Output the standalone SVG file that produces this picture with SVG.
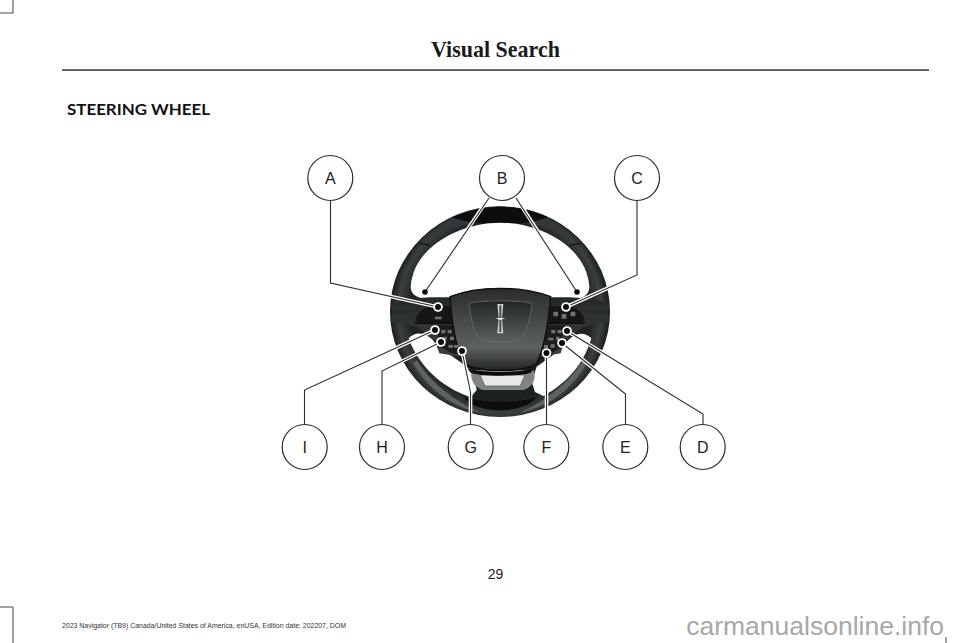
<svg xmlns="http://www.w3.org/2000/svg" width="960" height="643" viewBox="0 0 960 643">
<style>
.hd{font-family:"Liberation Serif",serif;font-weight:700;font-size:23px;fill:#1a1a1a}
.sec{font-family:"Lato","Liberation Sans",sans-serif;font-weight:700;font-size:16px;fill:#111}
.num{font-family:"Liberation Sans",sans-serif;font-size:14px;fill:#222}
.ft{font-family:"Liberation Sans",sans-serif;font-size:8px;fill:#333}
.wm{font-family:"Liberation Sans",sans-serif;font-size:26.500px;fill:#a8a8a8;text-anchor:end}
.c{fill:#fff;stroke:#2b2b2b;stroke-width:1.2}
.t{font-family:"Liberation Sans",sans-serif;font-size:16px;fill:#222;text-anchor:middle}
.h{fill:none;stroke:#fff;stroke-width:3.6}
.l{fill:none;stroke:#2b2b2b;stroke-width:1.1}
.dh{fill:#fff}
.d{fill:#0a0a0a}
.btn{fill:#6f7373}
</style>
<defs>
<radialGradient id="rg" gradientUnits="userSpaceOnUse" cx="360" cy="365" r="335">
<stop offset="0.8" stop-color="#1f2222"/><stop offset="0.91" stop-color="#3a3f3f"/><stop offset="1" stop-color="#141515"/>
</radialGradient>
<linearGradient id="hub" x1="0" y1="0" x2="0" y2="1"><stop offset="0" stop-color="#2a2c2c"/><stop offset="0.72" stop-color="#5c6160"/><stop offset="1" stop-color="#222424"/></linearGradient>
<linearGradient id="pad" x1="0" y1="0" x2="0" y2="1"><stop offset="0" stop-color="#232525"/><stop offset="1" stop-color="#5a605f"/></linearGradient>
<linearGradient id="sp" x1="0" y1="0" x2="0" y2="1"><stop offset="0" stop-color="#26292a"/><stop offset="1" stop-color="#3c4040"/></linearGradient>
<filter id="soft" x="-5%" y="-5%" width="110%" height="110%"><feGaussianBlur stdDeviation="1.3"/></filter>
</defs>

<g id="page">
<path d="M0 13H13V0M0 607H13V643" fill="none" stroke="#444" stroke-width="1"/>
<path d="M946 637V643" fill="none" stroke="#444" stroke-width="1"/>
<rect x="62" y="69.300" width="867" height="1.500" fill="#333"/>
<text class="hd" x="431" y="57" textLength="129" lengthAdjust="spacingAndGlyphs">Visual Search</text>
<text class="sec" x="67" y="115" textLength="143" lengthAdjust="spacingAndGlyphs">STEERING WHEEL</text>
<text class="num" x="495.500" y="579" text-anchor="middle">29</text>
<text class="ft" x="62" y="628" textLength="284" lengthAdjust="spacingAndGlyphs">2023 Navigator (TB9) Canada/United States of America, enUSA, Edition date: 202207, DOM</text>
<text class="wm" x="944" y="635">carmanualsonline.info</text>
</g>

<g id="wheel" transform="translate(380 190) scale(0.33333)">
<g filter="url(#soft)">
<ellipse cx="360" cy="365" rx="330" ry="316" fill="url(#rg)"/>
<path d="M120 160C190 85 290 50 360 50C430 50 530 85 600 160C520 110 430 85 360 98C290 85 200 110 120 160Z" fill="#34383a"/>
<path d="M215 82C280 55 330 50 360 50C390 50 440 55 505 82C450 100 410 104 360 98C310 104 270 100 215 82Z" fill="#0d0e0e"/>
<path d="M118 160L150 165M602 160L570 165" stroke="#0a0a0a" stroke-width="3"/>
<path d="M270 640C320 668 400 668 450 640L470 620C420 640 310 640 250 620Z" fill="#0a0a0a"/>
<path d="M100 520C150 610 230 655 300 668C240 640 160 590 110 510Z" fill="#5d6363"/>
<path d="M620 520C570 610 490 655 420 668C480 640 560 590 610 510Z" fill="#5d6363"/>
<path d="M92 290C100 170 240 98 360 98C480 98 620 170 628 290C628 312 610 325 590 325L130 325C110 322 92 312 92 290Z" fill="#fff"/>
<path d="M86 445C110 418 150 430 175 470L240 515L278 545L290 600L272 622C180 590 115 525 86 445Z" fill="#fff"/>
<path d="M634 445C610 418 572 430 540 480L470 530L455 575L465 606L490 618C560 580 610 525 634 445Z" fill="#fff"/>
<path d="M35 345C60 325 120 320 215 322L240 500L178 490C160 420 90 395 35 400Z" fill="url(#sp)"/>
<path d="M685 345C660 325 600 320 505 322L480 500L542 490C560 420 630 395 685 400Z" fill="url(#sp)"/>
<path d="M105 395C112 365 130 350 170 348H215L222 400H130Z" fill="#141616"/>
<path d="M615 395C608 365 590 350 550 348H512L505 400H590Z" fill="#141616"/>
<path d="M105 400H225M615 400H495" stroke="#0a0a0a" stroke-width="3" fill="none"/>
<path d="M170 405H225L250 495L215 490L180 470Z" fill="#1d1f1f"/>
<path d="M555 405H495L470 495L510 495L540 470Z" fill="#1d1f1f"/>
<path d="M275 540H460C470 565 460 590 430 600H310C285 595 268 570 275 540Z" fill="#7f8584"/>
<path d="M300 555H435L420 588H315Z" fill="#e6e8e8" stroke="#4a4d4d" stroke-width="2"/>
<path d="M210 320C260 300 310 295 360 295C410 295 460 300 512 320C505 400 495 470 470 520C440 548 290 548 250 520C228 470 215 400 210 320Z" fill="url(#hub)" stroke="#0a0a0a" stroke-width="4"/>
<path d="M268 340C300 330 420 330 456 340C450 390 440 430 420 448C390 460 330 460 300 448C282 430 272 390 268 340Z" fill="url(#pad)" stroke="#6f7575" stroke-width="2"/>
<path d="M262 535C300 550 420 550 462 535L452 548C420 560 300 560 272 548Z" fill="#080808"/>
<path d="M352 342H370L366 386L370 430H352L356 386Z" fill="#cfd3d3"/>
<path d="M358 346H364V426H358Z" fill="#4a4d4d"/>
<path d="M346 384H376L361 391Z" fill="#e3e6e6"/>
<path d="M184 420h12v10h-12zM203 420h12v10h-12zM190 440h10v10h-10zM210 440h12v10h-12zM205 465h14v8h-14zM222 465h12v8h-12zM165 380h20v8h-20z" class="btn"/>
<path d="M514 420h12v10h-12zM533 420h12v10h-12zM505 443h15v8h-15zM528 440h10v10h-10zM492 465h12v9h-12zM512 463h12v10h-12zM520 365h14v14h-14zM545 372h14v14h-14zM572 365h14v14h-14z" class="btn"/>
</g>
</g>

<g id="connectors">
<path class="h" d="M330.500 205V283L438 307"/>
<path class="h" d="M488 199L425 292"/>
<path class="h" d="M517 199L577 292"/>
<path class="h" d="M637 205V275L566 307"/>
<path class="h" d="M703 419V414L567 331"/>
<path class="h" d="M625.500 419V394L562 343"/>
<path class="h" d="M546.500 419V353"/>
<path class="h" d="M470.500 419V392L462 351"/>
<path class="h" d="M382 419V371L441 342"/>
<path class="h" d="M304.500 419V390L435 330"/>
<path class="l" d="M330.500 200V283L438 307"/>
<path class="l" d="M489 198L425 292"/>
<path class="l" d="M516 198L577 292"/>
<path class="l" d="M637 200V275L566 307"/>
<path class="l" d="M703 424V414L567 331"/>
<path class="l" d="M625.500 424V394L562 343"/>
<path class="l" d="M546.500 424V353"/>
<path class="l" d="M470.500 424V392L462 351"/>
<path class="l" d="M382 424V371L441 342"/>
<path class="l" d="M304.500 424V390L435 330"/>
<g>
<circle class="dh" cx="438" cy="307" r="4.800"/><circle class="d" cx="438" cy="307" r="3"/>
<circle class="d" cx="425" cy="292" r="2.800"/>
<circle class="d" cx="577" cy="292" r="2.800"/>
<circle class="dh" cx="566" cy="307" r="4.800"/><circle class="d" cx="566" cy="307" r="3"/>
<circle class="dh" cx="567" cy="331" r="4.800"/><circle class="d" cx="567" cy="331" r="3"/>
<circle class="dh" cx="562" cy="343" r="4.800"/><circle class="d" cx="562" cy="343" r="3"/>
<circle class="dh" cx="546.500" cy="353" r="4.800"/><circle class="d" cx="546.500" cy="353" r="3"/>
<circle class="dh" cx="462" cy="351" r="4.800"/><circle class="d" cx="462" cy="351" r="3"/>
<circle class="dh" cx="441" cy="342" r="4.800"/><circle class="d" cx="441" cy="342" r="3"/>
<circle class="dh" cx="435" cy="330" r="4.800"/><circle class="d" cx="435" cy="330" r="3"/>
</g>
</g>

<g id="node-A"><circle class="c" cx="330.300" cy="178" r="22.500"/><text class="t" x="330.300" y="184">A</text></g>
<g id="node-B"><circle class="c" cx="502" cy="178" r="22.500"/><text class="t" x="502" y="184">B</text></g>
<g id="node-C"><circle class="c" cx="637" cy="178" r="22.500"/><text class="t" x="637" y="184">C</text></g>
<g id="node-D"><circle class="c" cx="702.700" cy="447" r="22.500"/><text class="t" x="702.700" y="453">D</text></g>
<g id="node-E"><circle class="c" cx="625.300" cy="447" r="22.500"/><text class="t" x="625.300" y="453">E</text></g>
<g id="node-F"><circle class="c" cx="546.300" cy="447" r="22.500"/><text class="t" x="546.300" y="453">F</text></g>
<g id="node-G"><circle class="c" cx="470.700" cy="447" r="22.500"/><text class="t" x="470.700" y="453">G</text></g>
<g id="node-H"><circle class="c" cx="382" cy="447" r="22.500"/><text class="t" x="382" y="453">H</text></g>
<g id="node-I"><circle class="c" cx="304.700" cy="447" r="22.500"/><text class="t" x="304.700" y="453">I</text></g>
</svg>
